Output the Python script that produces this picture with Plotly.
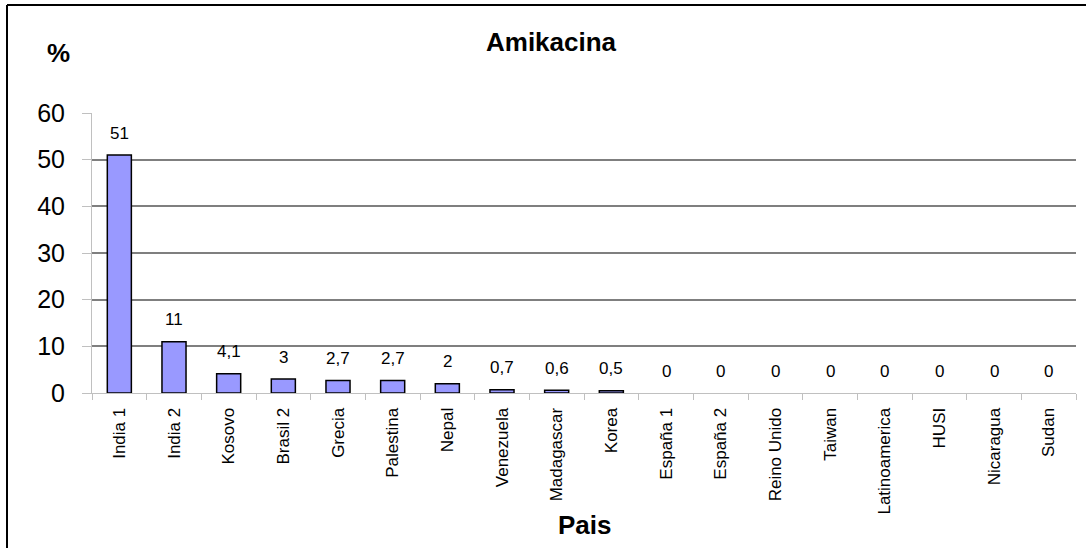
import plotly.graph_objects as go

# Amikacin resistance by country (%)
paises = ["India 1", "India 2", "Kosovo", "Brasil 2", "Grecia", "Palestina", "Nepal",
          "Venezuela", "Madagascar", "Korea", "España 1", "España 2", "Reino Unido",
          "Taiwan", "Latinoamerica", "HUSI", "Nicaragua", "Sudan"]
porcentaje = [51, 11, 4.1, 3, 2.7, 2.7, 2, 0.7, 0.6, 0.5, 0, 0, 0, 0, 0, 0, 0, 0]
y_ticks = [0, 10, 20, 30, 40, 50, 60]

W, H = 1086, 548
ML, MR, MT, MB = 92, 10, 113, 155
PW, PH = W - ML - MR, H - MT - MB

FONT = "Arial, 'Liberation Sans', sans-serif"


def px_to_paper_x(px):
    return (px - ML) / PW


def px_to_paper_y(py):
    return (H - MB - py) / PH


def etiqueta(v):
    return f"{v:g}".replace(".", ",")


# empty bars get no outline so nothing is drawn at zero
outline_widths = [1.5 if v > 0 else 0 for v in porcentaje]

fig = go.Figure()
fig.add_trace(go.Bar(
    x=paises,
    y=porcentaje,
    marker=dict(color="#9999FF", line=dict(color="#000000", width=outline_widths)),
    width=0.44,
    hoverinfo="x+y",
))

annotations = []
for p, v in zip(paises, porcentaje):
    annotations.append(dict(
        x=p, y=v, xref="x", yref="y", text=etiqueta(v), showarrow=False,
        yanchor="middle", yshift=22, font=dict(size=17, color="#000000", family=FONT),
    ))

annotations += [
    dict(text="%", xref="paper", yref="paper", x=px_to_paper_x(58), y=px_to_paper_y(53),
         showarrow=False, xanchor="center", yanchor="middle",
         font=dict(size=26, family=FONT, weight="bold", color="#000000")),
    dict(text="Pais", xref="paper", yref="paper", x=px_to_paper_x(585), y=px_to_paper_y(525),
         showarrow=False, xanchor="center", yanchor="middle",
         font=dict(size=26, family=FONT, weight="bold", color="#000000")),
    dict(text="Amikacina", xref="paper", yref="paper", x=px_to_paper_x(551), y=px_to_paper_y(42),
         showarrow=False, xanchor="center", yanchor="middle",
         font=dict(size=26, family=FONT, weight="bold", color="#000000")),
]

# chart frame (left and top edges visible within the page)
shapes = [
    dict(type="line", xref="paper", yref="paper",
         x0=px_to_paper_x(7), x1=px_to_paper_x(7),
         y0=px_to_paper_y(5), y1=px_to_paper_y(H + 10),
         line=dict(color="#000000", width=2)),
    dict(type="line", xref="paper", yref="paper",
         x0=px_to_paper_x(7), x1=px_to_paper_x(W + 10),
         y0=px_to_paper_y(5), y1=px_to_paper_y(5),
         line=dict(color="#000000", width=2)),
]

fig.update_layout(
    width=W, height=H,
    margin=dict(l=ML, r=MR, t=MT, b=MB, pad=0),
    paper_bgcolor="#FFFFFF", plot_bgcolor="#FFFFFF",
    showlegend=False,
    font=dict(family=FONT, color="#000000"),
    annotations=annotations,
    shapes=shapes,
    xaxis=dict(
        type="category", tickangle=-90, tickfont=dict(size=17, family=FONT),
        showline=True, linecolor="#C0C0C0", linewidth=1,
        ticks="outside", tickson="boundaries", ticklen=6, tickcolor="#C0C0C0",
        showgrid=False, zeroline=False, ticklabelstandoff=7,
    ),
    yaxis=dict(
        range=[0, 60], tickvals=y_ticks, tickfont=dict(size=25, family=FONT),
        showline=True, linecolor="#C0C0C0", linewidth=1,
        ticks="outside", ticklen=9, tickcolor="#C0C0C0",
        showgrid=True, gridcolor="#7F7F7F", gridwidth=1.5,
        zeroline=False, ticklabelstandoff=12,
    ),
)

fig.write_html("out.html")
